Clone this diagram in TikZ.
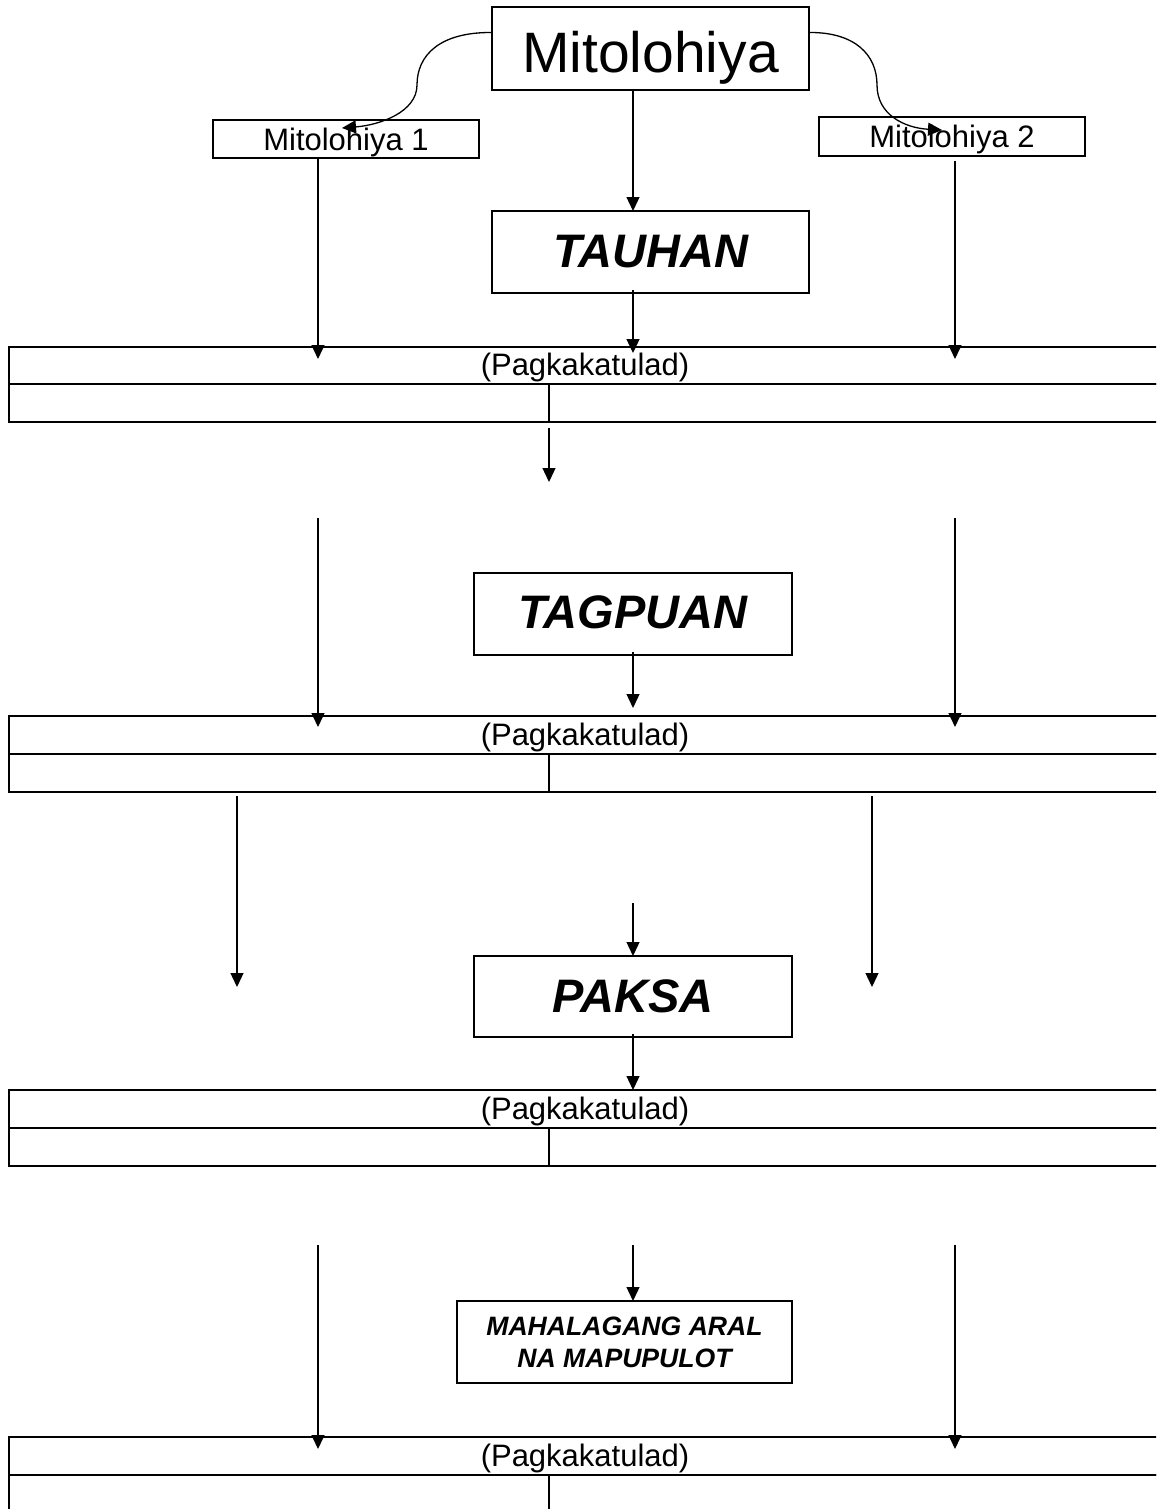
\documentclass[tikz,border=0pt]{standalone}
\usepackage{fontspec}
\setmainfont{Liberation Sans}
\usetikzlibrary{arrows.meta}
\begin{document}
\begin{tikzpicture}[x=1pt,y=-1pt,
  box/.style={draw, line width=2pt, inner sep=0pt, outer sep=0pt, text depth=0pt},
  tbl/.style={draw, line width=2.4pt, inner sep=0pt, outer sep=0pt, anchor=north west},
  arr/.style={line width=1.3pt, -{Triangle[length=14pt,width=13pt]}},
  head/.style={font=\bfseries\itshape\fontsize{47}{56}\selectfont},
  hdrtxt/.style={font=\fontsize{31}{36}\selectfont, text height=20pt, text depth=0pt}]
\useasboundingbox (0,0) rectangle (1156,1509);
\clip (0,0) rectangle (1156,1509);

% ---------- boxes ----------
\node[box, minimum width=317pt, minimum height=83pt, text height=49pt,
      font=\fontsize{57}{64}\selectfont] (top) at (650.5,48.5) {Mitolohiya};
\node[box, minimum width=266pt, minimum height=38pt, text height=22pt,
      font=\fontsize{31}{36}\selectfont] (m1) at (346,139) {Mitolohiya 1};
\node[box, minimum width=266pt, minimum height=39pt, text height=21pt,
      font=\fontsize{31}{36}\selectfont] (m2) at (952,136.5) {Mitolohiya 2};
\node[box, head, minimum width=317pt, minimum height=82pt, text height=30pt] (tauhan) at (650.5,252) {TAUHAN};
\node[box, head, minimum width=318pt, minimum height=82pt, text height=28pt] (tagpuan) at (633,614) {TAGPUAN};
\node[box, head, minimum width=318pt, minimum height=81pt, text height=31pt] (paksa) at (633,996.5) {PAKSA};
\node[draw, line width=2pt, inner sep=0pt, outer sep=0pt, align=center,
      minimum width=335pt, minimum height=82pt,
      font=\bfseries\itshape\fontsize{26.6}{32}\selectfont] (aral) at (624.5,1342) {MAHALAGANG ARAL\\NA MAPUPULOT};

% ---------- tables ----------
\node[tbl, hdrtxt, minimum width=1152pt, minimum height=37pt] (t1h) at (9,347) {(Pagkakatulad)};
\node[tbl, minimum width=540pt, minimum height=38pt] (t1l) at (9,384) {};
\node[tbl, minimum width=612pt, minimum height=38pt] (t1r) at (549,384) {};

\node[tbl, hdrtxt, minimum width=1152pt, minimum height=38pt] (t2h) at (9,716) {(Pagkakatulad)};
\node[tbl, minimum width=540pt, minimum height=38pt] (t2l) at (9,754) {};
\node[tbl, minimum width=612pt, minimum height=38pt] (t2r) at (549,754) {};

\node[tbl, hdrtxt, minimum width=1152pt, minimum height=38pt] (t3h) at (9,1090) {(Pagkakatulad)};
\node[tbl, minimum width=540pt, minimum height=38pt] (t3l) at (9,1128) {};
\node[tbl, minimum width=612pt, minimum height=38pt] (t3r) at (549,1128) {};

\node[tbl, hdrtxt, minimum width=1152pt, minimum height=38pt] (t4h) at (9,1437) {(Pagkakatulad)};
\node[tbl, minimum width=540pt, minimum height=38pt] (t4l) at (9,1475) {};
\node[tbl, minimum width=612pt, minimum height=38pt] (t4r) at (549,1475) {};

% ---------- helper coordinates ----------
\coordinate (cx) at (633,0);
\coordinate (c1s) at ([yshift=16pt]top.west);
\coordinate (c1e) at ([xshift=-4pt,yshift=-8pt]m1.north);
\coordinate (c2s) at ([yshift=16pt]top.east);
\coordinate (c2e) at ([xshift=-10pt,yshift=-13pt]m2.north);

\coordinate (L1e) at (318,359);
\coordinate (R1e) at (955,359);
\coordinate (C1e) at (633,353);
\coordinate (M1e) at (549,482);

\coordinate (L2s) at (318,518);  \coordinate (L2e) at (318,727);
\coordinate (R2s) at (955,518);  \coordinate (R2e) at (955,727);
\coordinate (C2e) at (633,708);

\coordinate (L3s) at (237,796);  \coordinate (L3e) at (237,987);
\coordinate (R3s) at (872,796);  \coordinate (R3e) at (872,987);
\coordinate (C3s) at (633,903);

\coordinate (L4s) at (318,1245); \coordinate (L4e) at (318,1449);
\coordinate (R4s) at (955,1245); \coordinate (R4e) at (955,1449);
\coordinate (C4s) at (633,1245);

% ---------- connectors ----------
\draw[arr] (c1s) .. controls (440,32) and (417,55) .. (417,85)
                 .. controls (417,112) and (380,125) .. (c1e);
\draw[arr] (c2s) .. controls (855,32) and (877,55) .. (877,85)
                 .. controls (877,115) and (905,128) .. (c2e);

\draw[arr] (top.south -| cx) -- (tauhan.north -| cx);
\draw[arr] (m1.south -| L1e) -- (L1e);
\draw[arr] ([yshift=-5pt]m2.south -| R1e) -- (R1e);
\draw[arr] ([yshift=3pt]tauhan.south -| cx) -- (C1e);
\draw[arr] ([yshift=-6pt]t1l.south east) -- (M1e);

\draw[arr] (L2s) -- (L2e);
\draw[arr] (R2s) -- (R2e);
\draw[arr] ([yshift=3pt]tagpuan.south -| cx) -- (C2e);

\draw[arr] (L3s) -- (L3e);
\draw[arr] (R3s) -- (R3e);
\draw[arr] (C3s) -- (paksa.north -| cx);
\draw[arr] ([yshift=3pt]paksa.south -| cx) -- (t3h.north -| cx);

\draw[arr] (L4s) -- (L4e);
\draw[arr] (R4s) -- (R4e);
\draw[arr] (C4s) -- (aral.north -| cx);
\end{tikzpicture}
\end{document}
